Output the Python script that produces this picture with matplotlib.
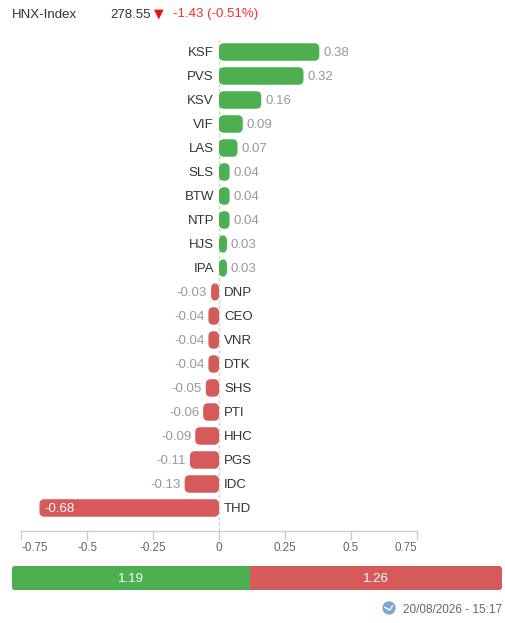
import matplotlib
matplotlib.use("Agg")
import matplotlib.pyplot as plt
from matplotlib.patches import FancyBboxPatch, Circle

plt.rcParams['font.family'] = ['Liberation Sans', 'DejaVu Sans']

# data
tickers = ['KSF', 'PVS', 'KSV', 'VIF', 'LAS', 'SLS', 'BTW', 'NTP', 'HJS', 'IPA',
           'DNP', 'CEO', 'VNR', 'DTK', 'SHS', 'PTI', 'HHC', 'PGS', 'IDC', 'THD']
changes = [0.38, 0.32, 0.16, 0.09, 0.07, 0.04, 0.04, 0.04, 0.03, 0.03,
           -0.03, -0.04, -0.04, -0.04, -0.05, -0.06, -0.09, -0.11, -0.13, -0.68]
x_ticks = [-0.75, -0.5, -0.25, 0, 0.25, 0.5, 0.75]
x_tick_labels = ['-0.75', '-0.5', '-0.25', '0', '0.25', '0.5', '0.75']
index_name = 'HNX-Index'
index_value = '278.55'
index_change = '-1.43 (-0.51%)'
total_up = 1.19
total_down = 1.26
timestamp = '20/08/2026 - 15:17'

GREEN = '#4caf50'
RED = '#d65a5a'
DARK = '#333333'
GRAY = '#999999'

W, H = 506, 623
fig = plt.figure(figsize=(W / 100, H / 100), dpi=100)

def box(x0, y0, x1, y1):
    # pixel box (top-left origin) -> figure fraction
    return [x0 / W, 1 - y1 / H, (x1 - x0) / W, (y1 - y0) / H]

# main bar chart
ax = fig.add_axes(box(21, 40, 417, 531))
ax.set_xlim(-0.75, 0.75)
ax.set_ylim(19.96, -0.5)
for s in ['top', 'right', 'left']:
    ax.spines[s].set_visible(False)
ax.spines['bottom'].set_color('#cccccc')
ax.spines['bottom'].set_linewidth(1)
ax.set_yticks([])
ax.set_xticks(x_ticks)
ax.set_xticklabels(x_tick_labels, color='#666666', fontsize=8.4)
ax.tick_params(axis='x', direction='out', length=6.5, color='#cccccc', width=1, pad=1.5)
# edge labels are kept inside the plot like the original
tl = ax.get_xticklabels()
tl[0].set_ha('left')
tl[-1].set_ha('right')
ax.axvline(0, color='#cccccc', lw=0.8, ls=(0, (3, 2)), zorder=0)

px_x = 1.5 / 396
px_y = 20.46 / 491
bar_h = 0.73
r = 5 * px_x
aspect = px_y / px_x
base = 4.5 * px_y  # baseline offset so caps sit centred on the bar
for i, (t, v) in enumerate(zip(tickers, changes)):
    col = GREEN if v > 0 else RED
    x0 = min(0, v)
    p = FancyBboxPatch((x0, i - bar_h / 2), abs(v), bar_h,
                       boxstyle=f"round,pad=0,rounding_size={r}",
                       mutation_aspect=aspect, fc=col, ec='none', zorder=2)
    ax.add_patch(p)
    lbl = f'{v:.2f}'
    y = i + base
    if v > 0:
        ax.text(-5 * px_x, y, t, ha='right', va='baseline', color=DARK, fontsize=9.5)
        ax.text(v + 4 * px_x, y, lbl, ha='left', va='baseline', color=GRAY, fontsize=9.5)
    else:
        ax.text(5 * px_x, y, t, ha='left', va='baseline', color=DARK, fontsize=9.5)
        if v < -0.5:
            ax.text(v + 5 * px_x, y, lbl, ha='left', va='baseline', color='white', fontsize=9.5)
        else:
            ax.text(v - 4 * px_x, y, lbl, ha='right', va='baseline', color=GRAY, fontsize=9.5)

# header
hy = 1 - 17.5 / H
fig.text(12 / W, hy, index_name, ha='left', va='baseline', color=DARK, fontsize=9.5)
fig.text(110 / W, hy, index_value, ha='left', va='baseline', color=DARK, fontsize=9.5)
fig.text(154 / W, hy, '\u25bc', ha='left', va='baseline', color='#ee1111', fontsize=9,
         family=['DejaVu Sans'])
fig.text(173 / W, hy, index_change, ha='left', va='baseline', color='#ee3333', fontsize=9.5)

# up/down total bar
tot = total_up + total_down
bx = fig.add_axes(box(12, 566, 502, 590))
bx.set_xlim(0, tot)
bx.set_ylim(0, 1)
bx.axis('off')
rr = 3 / 490 * tot
asp = (1 / 24) / (tot / 490)
bx.add_patch(FancyBboxPatch((0, 0), tot, 1,
                            boxstyle=f"round,pad=0,rounding_size={rr}",
                            mutation_aspect=asp, fc=RED, ec='none'))
bx.add_patch(FancyBboxPatch((0, 0), total_up, 1,
                            boxstyle=f"round,pad=0,rounding_size={rr}",
                            mutation_aspect=asp, fc=GREEN, ec='none'))
bx.add_patch(plt.Rectangle((total_up - 4 * rr, 0), 4 * rr, 1, fc=GREEN, ec='none'))
by = 0.5 - 4.5 / 24
bx.text(total_up / 2, by, f'{total_up:.2f}', ha='center', va='baseline', color='white', fontsize=9.5)
bx.text(total_up + total_down / 2, by, f'{total_down:.2f}', ha='center', va='baseline',
        color='white', fontsize=9.5)

# footer
fig.text(502 / W, 1 - 613 / H, timestamp, ha='right', va='baseline', color='#666666', fontsize=8.5)
ix = fig.add_axes(box(382, 601, 396, 615))
ix.set_xlim(-1, 1)
ix.set_ylim(-1, 1)
ix.axis('off')
ix.add_patch(Circle((0, 0), 0.95, fc='#7aa6d8', ec='none'))
ix.plot([-0.6, 0.1, 0.5], [0.1, -0.3, 0.3], color='white', lw=1)

fig.savefig('out.png', dpi=100, facecolor='white')
